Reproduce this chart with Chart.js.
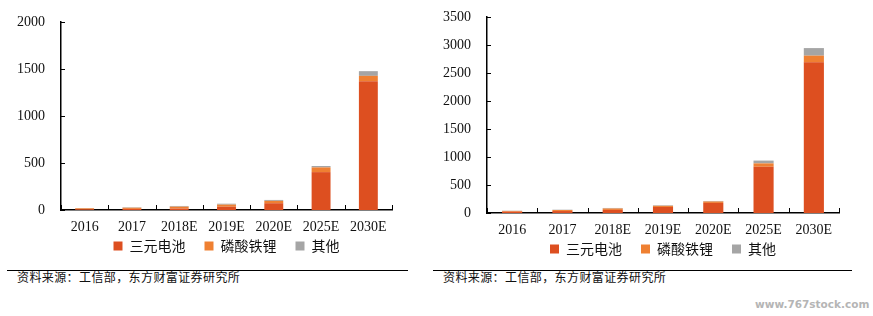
<!DOCTYPE html>
<html>
<head>
<meta charset="utf-8">
<script src="https://cdn.jsdelivr.net/npm/chart.js@4/dist/chart.umd.min.js"></script>
<style>
  body { margin: 0; background: #fff; width: 873px; height: 316px; position: relative; overflow: hidden; }
  .box { position: absolute; top: 0; }
  .rule { position: absolute; height: 1px; background: #000; top: 270px; }
  .src { position: absolute; top: 268px; font: 12px "Noto Sans CJK SC", sans-serif; color: #111; letter-spacing: 0.4px; }
  .mark { position: absolute; left: 755px; top: 298px; font: bold 10.5px "DejaVu Sans", sans-serif; color: #b5b5b5; }
</style>
</head>
<body>
<div class="box" id="leftBox" style="left:0;width:410px;height:263px"><canvas id="leftChart"></canvas></div>
<div class="box" id="rightBox" style="left:425px;width:430px;height:266px"><canvas id="rightChart"></canvas></div>
<div class="rule" style="left:7px;width:401px"></div>
<div class="rule" style="left:433px;width:419px"></div>
<div class="src" style="left:17px">资料来源：工信部，东方财富证券研究所</div>
<div class="src" style="left:443px">资料来源：工信部，东方财富证券研究所</div>
<div class="mark">www.767stock.com</div>
<script>
const categories = ['2016', '2017', '2018E', '2019E', '2020E', '2025E', '2030E'];
const seriesNames = ['三元电池', '磷酸铁锂', '其他'];

const leftNcm = [8, 12, 15, 35, 72, 403, 1370];
const leftLfp = [10, 12, 20, 22, 25, 50, 57];
const leftOther = [3, 5, 8, 10, 10, 15, 50];

const rightNcm = [25, 35, 55, 108, 180, 826, 2690];
const rightLfp = [12, 18, 25, 20, 25, 60, 120];
const rightOther = [4, 6, 10, 10, 10, 50, 135];

const colors = ['#DD4F20', '#EF8032', '#A5A5A5'];

// small inward tick marks on both axes
const innerTicks = {
    id: 'innerTicks',
    afterDatasetsDraw(chart) {
        const ctx = chart.ctx;
        const x = chart.scales.x;
        const y = chart.scales.y;
        const area = chart.chartArea;
        ctx.save();
        ctx.strokeStyle = '#000';
        ctx.lineWidth = 1;
        ctx.beginPath();
        y.ticks.forEach(t => {
            const py = Math.round(y.getPixelForValue(t.value)) + 0.5;
            ctx.moveTo(area.left, py);
            ctx.lineTo(area.left + 4, py);
        });
        const step = x.getPixelForValue(1) - x.getPixelForValue(0);
        for (let i = 0; i <= categories.length; i++) {
            const px = Math.round(x.getPixelForValue(i) - step / 2) + 0.5;
            ctx.moveTo(px, area.bottom);
            ctx.lineTo(px, area.bottom - 5);
        }
        ctx.stroke();
        ctx.restore();
    }
};

function makeChart(id, ncm, lfp, other, maxY, yWidth, pad) {
    const values = [ncm, lfp, other];
    new Chart(document.getElementById(id), {
        type: 'bar',
        data: {
            labels: categories,
            datasets: seriesNames.map((name, i) => ({
                label: name,
                data: values[i],
                backgroundColor: colors[i],
                borderWidth: 0,
                categoryPercentage: 0.8,
                barPercentage: 0.5
            }))
        },
        options: {
            responsive: true,
            maintainAspectRatio: false,
            animation: false,
            layout: { padding: pad },
            plugins: {
                tooltip: { enabled: false },
                legend: {
                    position: 'bottom',
                    fullSize: false,
                    labels: {
                        boxWidth: 9,
                        boxHeight: 9,
                        padding: 5,
                        color: '#111',
                        font: { family: '"Noto Sans CJK SC", sans-serif', size: 14 },
                        // widen the gap between items without growing the legend height
                        generateLabels: chart => {
                            const items = Chart.defaults.plugins.legend.labels.generateLabels(chart);
                            items.forEach((it, i) => {
                                if (i < items.length - 1) it.text += '\u3000';
                            });
                            return items;
                        }
                    }
                }
            },
            scales: {
                x: {
                    stacked: true,
                    grid: { display: false, drawTicks: false },
                    border: { color: '#000', width: 1.5 },
                    ticks: {
                        color: '#111',
                        padding: 9,
                        maxRotation: 0,
                        font: { family: '"Liberation Serif", serif', size: 14 }
                    },
                    afterFit: s => { s.height = 24; }
                },
                y: {
                    stacked: true,
                    min: 0,
                    max: maxY,
                    grid: { display: false },
                    border: { color: '#000', width: 1.5 },
                    ticks: {
                        stepSize: 500,
                        color: '#111',
                        padding: 8,
                        callback: v => String(v),
                        font: { family: '"Liberation Serif", serif', size: 14 }
                    },
                    afterFit: s => { s.width = yWidth; }
                }
            }
        },
        plugins: [innerTicks]
    });
}

makeChart('leftChart', leftNcm, leftLfp, leftOther, 2000, 61, { top: 22, right: 18, left: 0, bottom: 0 });
makeChart('rightChart', rightNcm, rightLfp, rightOther, 3500, 62, { top: 17, right: 16, left: 0, bottom: 0 });
</script>
</body>
</html>
